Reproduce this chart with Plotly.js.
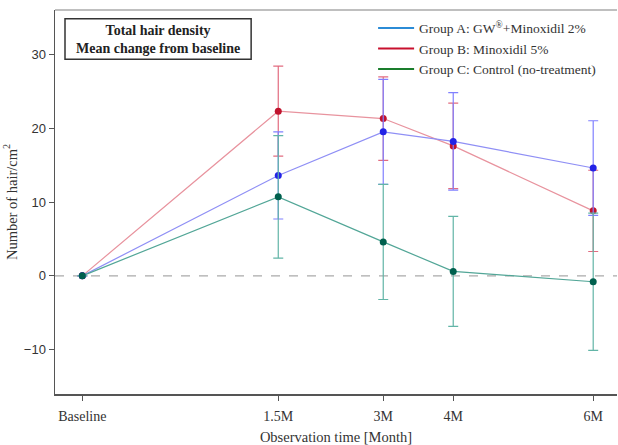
<!DOCTYPE html>
<html>
<head>
<meta charset="utf-8">
<script src="https://cdn.plot.ly/plotly-3.0.1.min.js"></script>
<style>html,body{margin:0;padding:0;background:#fff;}#chart{width:618px;height:445px;}</style>
</head>
<body>
<div id="chart"></div>
<script>
// Observation points (baseline drawn left of 1.5M on the month axis)
var timeLabels = ["Baseline", "1.5M", "3M", "4M", "6M"];
var timeMonths = [-1.3, 1.5, 3, 4, 6];

var groupNames = ["Group A: GW<sup>®</sup>+Minoxidil 2%", "Group B: Minoxidil 5%", "Group C: Control (no-treatment)"];

var groupA_mean = [0, 13.6, 19.5, 18.2, 14.6];
var groupA_err  = [0, 5.9, 7.1, 6.6, 6.4];
var groupB_mean = [0, 22.3, 21.3, 17.6, 8.8];
var groupB_err  = [0, 6.1, 5.65, 5.8, 5.5];
var groupC_mean = [0, 10.7, 4.6, 0.6, -0.8];
var groupC_err  = [0, 8.3, 7.8, 7.45, 9.3];

var serif = "Liberation Serif, DejaVu Serif, serif";
var sans = "Liberation Sans, Arial, sans-serif";

function series(mean, err, lineColor, markerColor, errColor) {
  return {
    x: timeMonths, y: mean, type: "scatter", mode: "lines+markers",
    showlegend: false, hoverinfo: "skip",
    line: {color: lineColor, width: 1.2},
    marker: {color: markerColor, size: 7},
    error_y: {type: "data", array: err, visible: true, color: errColor, thickness: 1.2, width: 5}
  };
}
function legendItem(name, color) {
  return {x: [null], y: [null], type: "scatter", mode: "lines", name: name,
          line: {color: color, width: 2}, showlegend: true, hoverinfo: "skip"};
}

var data = [
  series(groupB_mean, groupB_err, "#e8939e", "#c0142e", "#e26c80"),
  series(groupA_mean, groupA_err, "#8f8ff5", "#2222e6", "#8080ff"),
  series(groupC_mean, groupC_err, "#52a697", "#00604e", "#62b5a7"),
  legendItem(groupNames[0], "#2b8bd6"),
  legendItem(groupNames[1], "#c8102e"),
  legendItem(groupNames[2], "#1a7d2c")
];

var layout = {
  width: 618, height: 445,
  margin: {l: 55, r: 1, t: 10, b: 51, pad: 0},
  paper_bgcolor: "#fff", plot_bgcolor: "#fff",
  showlegend: true,
  legend: {x: 0.566, y: 0.993, xanchor: "left", yanchor: "top",
           font: {family: serif, size: 13.5, color: "#333"},
           bgcolor: "rgba(0,0,0,0)", tracegroupgap: 0, itemwidth: 36},
  xaxis: {
    range: [-1.69, 6.34], tickmode: "array", tickvals: timeMonths, ticktext: timeLabels,
    showgrid: false, zeroline: false, showline: true, linecolor: "#555", linewidth: 1.5,
    ticks: "outside", ticklen: 5, tickcolor: "#555", ticklabelstandoff: 4,
    tickfont: {family: serif, size: 14, color: "#333"},
    title: {text: "Observation time [Month]", font: {family: serif, size: 14.5, color: "#333"}, standoff: 10}
  },
  yaxis: {
    range: [-16, 36], tickvals: [-10, 0, 10, 20, 30],
    showgrid: false, zeroline: false, showline: true, linecolor: "#555", linewidth: 1.5,
    ticks: "outside", ticklen: 5, tickcolor: "#555",
    tickfont: {family: sans, size: 13, color: "#333"},
    title: {text: "Number of hair/cm<sup>2</sup>", font: {family: serif, size: 14.5, color: "#333"}, standoff: 3}
  },
  shapes: [
    {type: "line", xref: "paper", yref: "y", x0: 0, x1: 1, y0: 0, y1: 0,
     line: {color: "#aaa", width: 1.2, dash: "dash"}, layer: "below"},
    {type: "line", xref: "paper", yref: "paper", x0: 0, x1: 1, y0: 1, y1: 1,
     line: {color: "#aaa", width: 1.5}},
    {type: "rect", xref: "paper", yref: "paper", x0: 0.0178, x1: 0.349, y0: 0.872, y1: 0.977,
     line: {color: "#333", width: 1.5}, fillcolor: "#fff"}
  ],
  annotations: [
    {xref: "paper", yref: "paper", x: 0.183, y: 0.922, xanchor: "center", yanchor: "middle",
     showarrow: false,
     text: "<b>Total hair density</b><br><b>Mean change from baseline</b>",
     font: {family: serif, size: 14, color: "#222"}, align: "center"}
  ]
};

Plotly.newPlot("chart", data, layout, {displayModeBar: false, staticPlot: true});
</script>
</body>
</html>
